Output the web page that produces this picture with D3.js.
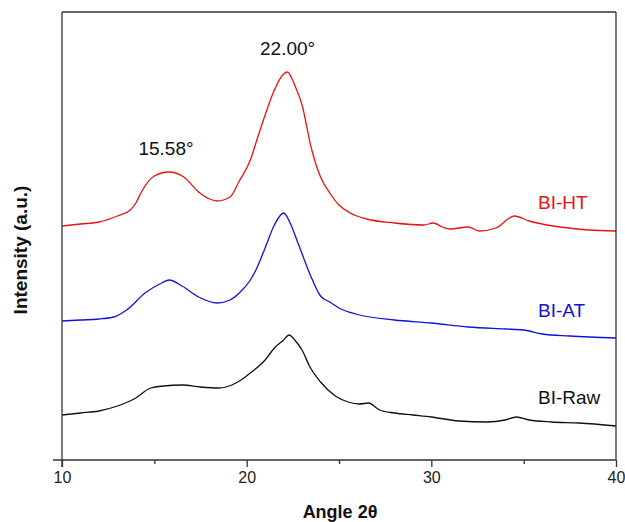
<!DOCTYPE html>
<html>
<head>
<meta charset="utf-8">
<script src="https://cdn.jsdelivr.net/npm/d3@7"></script>
<style>
  body { margin: 0; background: #fff; }
  svg { font-family: "Liberation Sans", Arial, sans-serif; }
</style>
</head>
<body>
<div id="chart"></div>
<script>
// XRD patterns, intensity in arbitrary units (curves already offset)
const htAngles = [10, 11, 12, 13, 13.7, 14.0, 14.3, 15.0, 15.8, 16.6, 17.4, 18.0, 18.4, 19.1, 19.6, 20.2, 20.5, 21.0, 21.5, 22.0, 22.2, 22.6, 23.0, 23.5, 24.0, 24.5, 25.0, 25.6, 26.5, 28.0, 29.6, 30.1, 30.6, 31.0, 32.0, 32.6, 33.5, 34.5, 35.3, 36.0, 37.0, 38.5, 40.0];
const htValues = [234, 236, 238, 244, 250, 257, 268, 284, 288, 283, 268, 261, 259, 263, 279, 300, 317, 345, 370, 386, 388, 375, 355, 312, 283, 267, 255, 247, 241, 237, 235, 237, 233, 231, 233, 229, 232, 244, 239, 236, 233, 230, 229];

const atAngles = [10, 11, 12, 12.8, 13.5, 14.5, 15.4, 15.8, 16.5, 17.4, 18.4, 19.1, 19.6, 20.2, 20.5, 21.0, 21.5, 22.0, 22.4, 22.8, 23.4, 24.0, 24.5, 25.1, 25.9, 28.0, 30.0, 32.0, 34.0, 35.0, 36.0, 37.5, 40.0];
const atValues = [139, 140, 141, 143, 150, 167, 177, 180, 174, 163, 157, 160, 167, 180, 190, 212, 235, 247, 235, 216, 187, 164, 158, 151, 146, 140, 137, 133, 131, 130, 126, 124, 122];

const rawAngles = [10, 11, 12, 13, 14, 14.8, 15.5, 16.5, 17.5, 18.5, 19.2, 19.7, 20.2, 21.0, 21.5, 22.0, 22.3, 22.6, 23.0, 23.4, 24.0, 24.8, 25.5, 26.1, 26.6, 27.2, 28.0, 29.0, 30.0, 31.5, 33.0, 34.0, 34.6, 35.3, 36.5, 38.0, 40.0];
const rawValues = [45, 47, 49, 54, 62, 72, 74, 75, 73, 72, 75, 80, 87, 100, 112, 120, 125, 120, 110, 94, 78, 64, 58, 56, 57, 50, 47, 45, 43, 39, 38, 40, 43, 40, 38, 37, 34];

const seriesNames = ["BI-HT", "BI-AT", "BI-Raw"];
const seriesColors = ["#ee1111", "#1111dd", "#111111"];
const majorTicks = [10, 20, 30, 40];
const minorTicks = [15, 25, 35];
const peakLabels = ["15.58°", "22.00°"];
const peakAngles = [15.58, 22.0];
const peakValues = [288, 388];

const width = 625, height = 522;
const margin = { top: 12, right: 9, bottom: 62, left: 62 };
const font = "'Liberation Sans', Arial, sans-serif";

const svg = d3.select("#chart").append("svg")
    .attr("width", width)
    .attr("height", height);

const x = d3.scaleLinear().domain([10, 40]).range([margin.left, width - margin.right]);
const y = d3.scaleLinear().domain([0, 448]).range([height - margin.bottom, margin.top]);

const series = [
    { name: seriesNames[0], color: seriesColors[0], pts: d3.zip(htAngles, htValues) },
    { name: seriesNames[1], color: seriesColors[1], pts: d3.zip(atAngles, atValues) },
    { name: seriesNames[2], color: seriesColors[2], pts: d3.zip(rawAngles, rawValues) }
];

const line = d3.line()
    .x(d => x(d[0]))
    .y(d => y(d[1]))
    .curve(d3.curveMonotoneX);

// curves
svg.append("g").selectAll("path")
    .data(series)
    .join("path")
    .attr("fill", "none")
    .attr("stroke", d => d.color)
    .attr("stroke-width", 1.3)
    .attr("d", d => line(d.pts));

// frame: top and right borders, left axis
const frame = "#333";
svg.append("line").attr("x1", x(10)).attr("x2", x(40)).attr("y1", y(448)).attr("y2", y(448))
    .attr("stroke", frame).attr("stroke-width", 1.3);
svg.append("line").attr("x1", x(40)).attr("x2", x(40)).attr("y1", y(448)).attr("y2", y(0))
    .attr("stroke", frame).attr("stroke-width", 1.3);
svg.append("line").attr("x1", x(10)).attr("x2", x(10)).attr("y1", y(448)).attr("y2", y(0) + 7)
    .attr("stroke", frame).attr("stroke-width", 1.3);

// bottom axis
const xAxis = svg.append("g")
    .attr("transform", `translate(0,${y(0)})`)
    .call(d3.axisBottom(x).tickValues(majorTicks).tickSize(7).tickPadding(5).tickFormat(d3.format("d")))
    .attr("font-family", font)
    .attr("font-size", 16);
xAxis.select(".domain").remove();
xAxis.selectAll(".tick line").attr("stroke", frame).attr("stroke-width", 1.3);
xAxis.selectAll(".tick text").attr("fill", "#222");

const xMinor = svg.append("g")
    .attr("transform", `translate(0,${y(0)})`)
    .call(d3.axisBottom(x).tickValues(minorTicks).tickSize(4).tickFormat(""));
xMinor.select(".domain").remove();
xMinor.selectAll(".tick line").attr("stroke", frame).attr("stroke-width", 1.3);

svg.append("line").attr("x1", 53).attr("x2", x(40)).attr("y1", y(0)).attr("y2", y(0))
    .attr("stroke", frame).attr("stroke-width", 1.3);

// axis titles
svg.append("text")
    .attr("x", 340).attr("y", 518)
    .attr("text-anchor", "middle")
    .attr("font-size", 18).attr("font-weight", "bold").attr("fill", "#111")
    .text("Angle 2θ");

svg.append("text")
    .attr("transform", "translate(27,250) rotate(-90)")
    .attr("text-anchor", "middle")
    .attr("font-size", 19).attr("font-weight", "bold").attr("fill", "#111")
    .text("Intensity (a.u.)");

// series labels
svg.append("g").selectAll("text")
    .data(series)
    .join("text")
    .attr("x", 538)
    .attr("y", (d, i) => [209, 317, 404][i])
    .attr("font-size", 19)
    .attr("fill", d => d.color)
    .text(d => d.name);

// peak annotations
svg.append("g").selectAll("text")
    .data(peakLabels)
    .join("text")
    .attr("x", (d, i) => x(peakAngles[i]) + [1, 4][i])
    .attr("y", (d, i) => y(peakValues[i]) - 17)
    .attr("text-anchor", "middle")
    .attr("font-size", 19)
    .attr("fill", "#111")
    .text(d => d);
</script>
</body>
</html>
